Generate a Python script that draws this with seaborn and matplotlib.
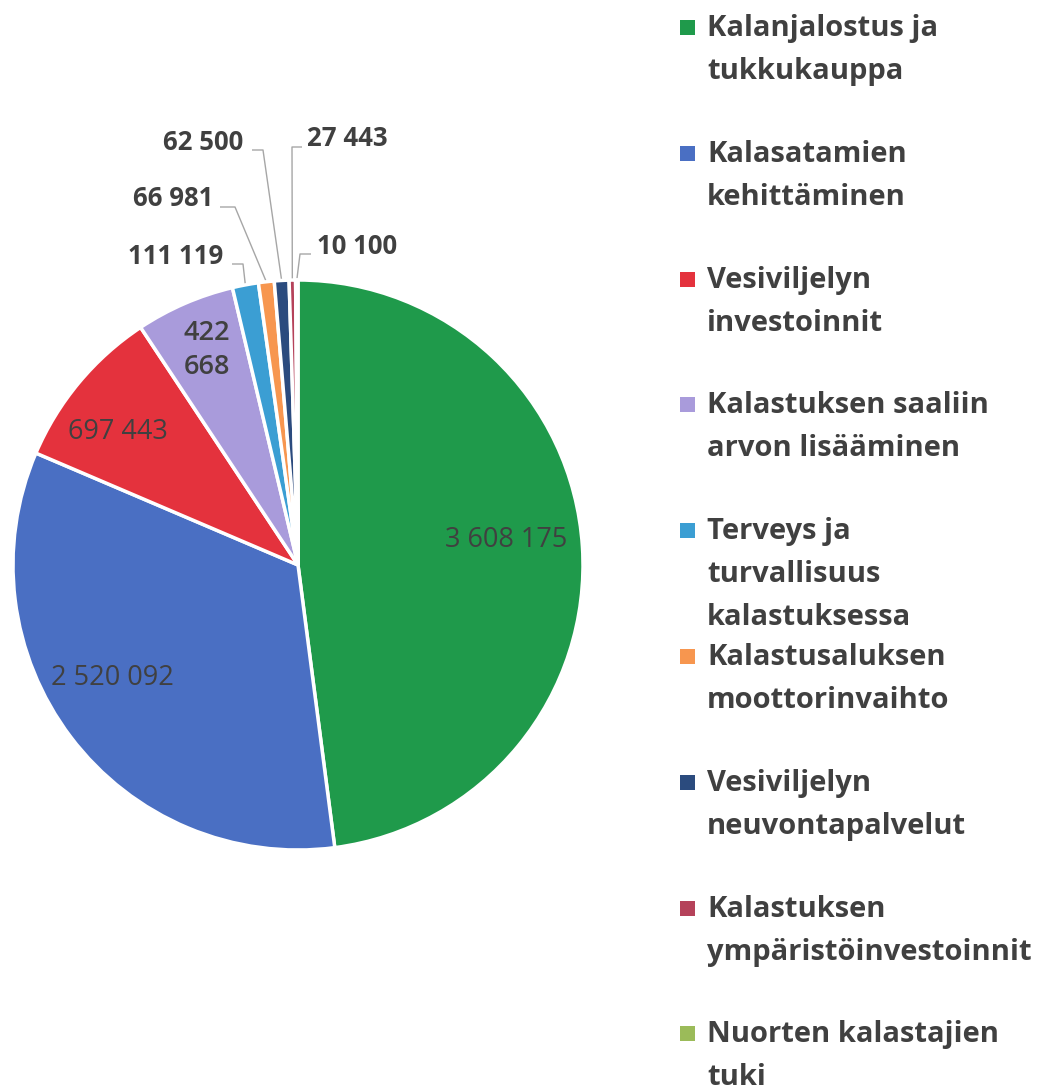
import numpy as np
import matplotlib
matplotlib.use("Agg")
import matplotlib.pyplot as plt
import seaborn as sns
from matplotlib.patches import Rectangle

# ---------------- data ----------------
categories = [
    "Kalanjalostus ja tukkukauppa",
    "Kalasatamien kehittäminen",
    "Vesiviljelyn investoinnit",
    "Kalastuksen saaliin arvon lisääminen",
    "Terveys ja turvallisuus kalastuksessa",
    "Kalastusaluksen moottorinvaihto",
    "Vesiviljelyn neuvontapalvelut",
    "Kalastuksen ympäristöinvestoinnit",
    "Nuorten kalastajien tuki",
]
legend_lines = [
    ["Kalanjalostus ja", "tukkukauppa"],
    ["Kalasatamien", "kehittäminen"],
    ["Vesiviljelyn", "investoinnit"],
    ["Kalastuksen saaliin", "arvon lisääminen"],
    ["Terveys ja", "turvallisuus", "kalastuksessa"],
    ["Kalastusaluksen", "moottorinvaihto"],
    ["Vesiviljelyn", "neuvontapalvelut"],
    ["Kalastuksen", "ympäristöinvestoinnit"],
    ["Nuorten kalastajien", "tuki"],
]
values = [3608175, 2520092, 697443, 422668, 111119, 66981, 62500, 27443, 10100]
colors = ["#1F9A4B", "#4A6FC3", "#E4323D", "#A99BDB", "#3B9ED3",
          "#F7964F", "#2B4B7E", "#B5425A", "#9BBB59"]

# ---------------- style ----------------
sns.set_theme(style="white")
plt.rcParams['font.family'] = ['Open Sans', 'DejaVu Sans']
TXT = "#404040"

W, H = 1052, 1092
fig = plt.figure(figsize=(W / 100, H / 100), dpi=100)
fig.patch.set_facecolor("white")

CX, CY, R = 298, 565, 285          # pie centre / radius in pixels
AXW = 650
ax = fig.add_axes([0, 0, AXW / W, 1])
wedges, _ = ax.pie(values, colors=colors, startangle=90, counterclock=False,
                   wedgeprops=dict(edgecolor="white", linewidth=2.5))
ax.set_xlim(-CX / R, (AXW - CX) / R)
ax.set_ylim((CY - H) / R, CY / R)
ax.set_aspect("auto")
ax.axis("off")


def d(px, py):
    return (px - CX) / R, (CY - py) / R


def fmt(v):
    return f"{v:,}".replace(",", " ")


# inner labels: index -> (px, py, weight, wrap)
inner = {
    0: (506, 540, "normal", False),
    1: (112, 678, "normal", False),
    2: (118, 432, "normal", False),
    3: (207, 350, "semibold", True),
}
IN_SIZE = 19.5
OUT_SIZE = 18.5
for i, (px, py, wt, wrap) in inner.items():
    s = fmt(values[i])
    if wrap:
        s = s.replace(" ", "\n")
    x, y = d(px, py)
    ax.text(x, y, s, ha="center", va="center", fontsize=IN_SIZE,
            color=TXT, fontweight=wt, linespacing=1.25)

# outer labels with leader lines: index -> (text x, text centre y, ha, line y, line start x, elbow x)
outer = {
    4: (223, 256, "right", 264, 232, 243),
    5: (213, 198, "right", 207, 220, 235),
    6: (243, 142, "right", 150, 252, 263),
    7: (307, 138, "left", 147, 302, 292),
    8: (317, 247, "left", 254, 311, 300),
}
for i, (tx, ty, ha, ly, lx0, ex) in outer.items():
    w = wedges[i]
    mid = np.deg2rad((w.theta1 + w.theta2) / 2)
    px_edge = np.cos(mid) * w.r
    py_edge = np.sin(mid) * w.r
    x0, y0 = d(lx0, ly)
    x1, y1 = d(ex, ly)
    ax.plot([x0, x1, px_edge], [y0, y1, py_edge], color="#A6A6A6", lw=1.0,
            solid_capstyle="butt", zorder=0.5)
    x, y = d(tx, ty)
    ax.text(x, y, fmt(values[i]), ha=ha, va="center", fontsize=OUT_SIZE,
            color=TXT, fontweight="bold")

# ---------------- legend (manual) ----------------
LEG_SIZE = 21
BASE0, STEP, LINE = 36, 125.8, 43
for i, lines in enumerate(legend_lines):
    b = BASE0 + STEP * i
    fig.patches.append(Rectangle((680 / W, 1 - (b - 1) / H), 15 / W, 15 / H,
                                 transform=fig.transFigure, facecolor=colors[i],
                                 edgecolor="none"))
    for k, line in enumerate(lines):
        fig.text(707 / W, 1 - (b + LINE * k) / H, line, ha="left", va="baseline",
                 fontsize=LEG_SIZE, fontweight="bold", color=TXT)

fig.savefig("out.png", dpi=100, facecolor="white")
